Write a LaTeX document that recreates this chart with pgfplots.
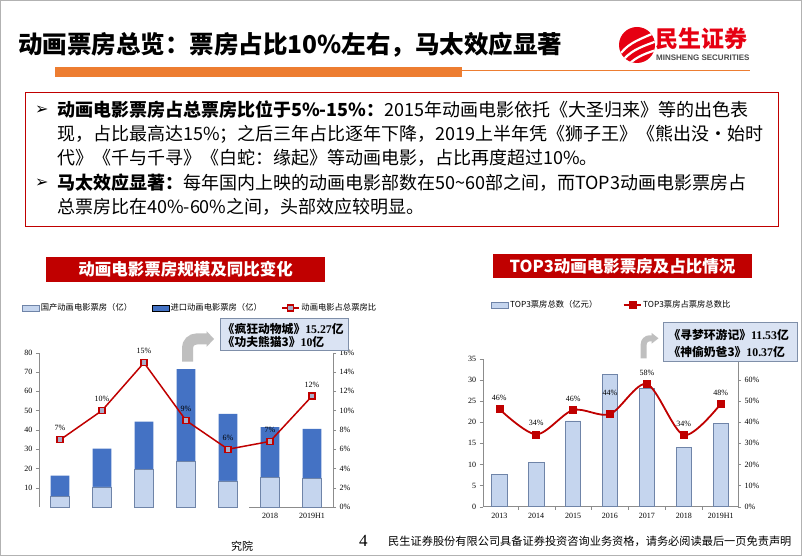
\documentclass[border=0pt]{standalone}
\usepackage{fontspec}
\setmainfont{Liberation Serif}
\newfontfamily\cjk{Noto Sans CJK SC}
\newfontfamily\sym{DejaVu Sans}
\newfontfamily\lsans{Liberation Sans}
\usepackage{pgfplots}
\pgfplotsset{compat=1.18}
\XeTeXlinebreaklocale "zh"
\XeTeXlinebreakskip=0pt plus 3pt
\newcommand\fs[1]{\fontsize{#1}{#1}\selectfont}
\definecolor{darkred}{HTML}{C00000}
\definecolor{orange1}{HTML}{ED7D31}
\definecolor{logored}{HTML}{E60012}
\definecolor{lightbar}{HTML}{C5D5EE}
\definecolor{baredge}{HTML}{6F84A8}
\definecolor{darkbar}{HTML}{4472C4}
\definecolor{annfill}{HTML}{DAE3F3}
\definecolor{annedge}{HTML}{7F8FA9}
\definecolor{arrowgrey}{HTML}{BFBFBF}
\definecolor{axgrey}{HTML}{8C8C8C}
\definecolor{markfill}{HTML}{A9AEC9}
\pgfplotsset{
  commonax/.style={
    scale only axis, anchor=south west, clip=false,
    tick align=outside, major tick length=3pt, minor tick length=3pt,
    ticklabel style={font=\fontsize{8}{9}\selectfont, text=black},
    /pgf/number format/assume math mode=true,
    axis line style={-, draw=axgrey},
    ytick style={draw=axgrey},
    xtick style={draw=none},
  },
}
\begin{document}
\begin{tikzpicture}
\useasboundingbox (0,0) rectangle (802pt,556pt);
\fill[white] (0,0) rectangle (802pt,556pt);
\draw[gray!60, line width=0.8pt] (0.4pt,0.4pt) rectangle (801.6pt,555.6pt);

% ---------- header ----------
\node[anchor=west, inner sep=0pt] at (18pt,511pt) {\cjk\bfseries\fs{24.5}动画票房总览：票房占比10\%左右，马太效应显著};
\fill[orange1] (55pt,479pt) rectangle (462pt,489pt);
\draw[orange1, line width=0.6pt] (462pt,486pt) -- (750pt,486pt);

% logo
\fill[logored] (637pt,511pt) circle (18pt);
\begin{scope}
\clip (637pt,511pt) circle (18pt);
\draw[white, line width=2.2pt] (621pt,503pt) .. controls (630pt,514pt) and (641pt,517pt) .. (654pt,523pt);
\draw[white, line width=2.2pt] (624pt,497pt) .. controls (633pt,507pt) and (644pt,510pt) .. (657pt,515pt);
\draw[white, line width=2.2pt] (628pt,491pt) .. controls (637pt,500pt) and (647pt,503pt) .. (659pt,507pt);
\end{scope}
\node[anchor=west, inner sep=0pt, text=logored] at (655pt,517pt) {\cjk\bfseries\fs{23}民生证券};
\node[anchor=west, inner sep=0pt, text=black!70] at (656pt,498pt) {\lsans\bfseries\fs{8}MINSHENG SECURITIES};

% text box
\draw[darkred, line width=0.8pt] (25pt,330pt) rectangle (778pt,464pt);
\node[anchor=west, inner sep=0pt] at (35pt,446pt) {\sym\fs{16}➢};
\node[anchor=west, inner sep=0pt] at (35pt,373pt) {\sym\fs{16}➢};
\node[anchor=west, inner sep=0pt] at (57pt,446pt) {\cjk\fs{18}\makebox[706pt][s]{{\bfseries 动画电影票房占总票房比位于5\%-15\%：}2015年动画电影依托《大圣归来》等的出色表}};
\node[anchor=west, inner sep=0pt] at (57pt,422pt) {\cjk\fs{18}\makebox[706pt][s]{现，占比最高达15\%；之后三年占比逐年下降，2019上半年凭《狮子王》《熊出没·始时}};
\node[anchor=west, inner sep=0pt] at (57pt,398pt) {\cjk\fs{18}代》《千与千寻》《白蛇：缘起》等动画电影，占比再度超过10\%。};
\node[anchor=west, inner sep=0pt] at (57pt,373pt) {\cjk\fs{18}\makebox[706pt][s]{{\bfseries 马太效应显著：}每年国内上映的动画电影部数在50\textasciitilde60部之间，而TOP3动画电影票房占}};
\node[anchor=west, inner sep=0pt] at (57pt,349pt) {\cjk\fs{18}总票房比在40\%-60\%之间，头部效应较明显。};

% chart titles
\fill[darkred] (46pt,274.3pt) rectangle (325pt,298.7pt);
\node[text=white, inner sep=0pt] at (185.5pt,286.5pt) {\cjk\bfseries\fs{16.5}动画电影票房规模及同比变化};
\fill[darkred] (492.7pt,277.7pt) rectangle (752.3pt,302pt);
\node[text=white, inner sep=0pt] at (622.5pt,289.8pt) {\cjk\bfseries\fs{16.5}TOP3动画电影票房及占比情况};

% ---------- chart 1 ----------
\begin{axis}[commonax,
  at={(39pt,49pt)}, width=294pt, height=154.3pt,
  xmin=-0.5, xmax=6.5, ymin=0, ymax=80,
  ytick={10,20,...,80},
  xtick={0,...,6}, xticklabels={,,,,,2018,2019H1},
  axis y line*=left, axis x line*=bottom,
  x axis line style={draw=none},
  ybar stacked, bar width=18.7pt,
]
\addplot[fill=lightbar, draw=baredge, line width=0.5pt] coordinates {(0,5.5)(1,10.4)(2,19.6)(3,23.5)(4,13.5)(5,15.4)(6,14.9)};
\addplot[fill=darkbar, draw=none] coordinates {(0,10.8)(1,19.9)(2,24.7)(3,48.0)(4,34.8)(5,26.0)(6,25.6)};
\draw[axgrey] (axis cs:4.5,0) -- (axis cs:6.5,0);
\end{axis}
\begin{axis}[commonax,
  at={(39pt,49pt)}, width=294pt, height=154.3pt,
  xmin=-0.5, xmax=6.5, ymin=0, ymax=16,
  ytick={0,2,...,16}, yticklabel={\pgfmathprintnumber{\tick}\%},
  axis y line*=right, axis x line=none,
  legend columns=3,
  legend style={at={(-0.059,1.29)}, anchor=west, draw=none, fill=none, inner sep=0pt,
    font=\cjk\fontsize{8.3}{9}\selectfont, nodes={inner sep=1.5pt},
    /tikz/every even column/.append style={column sep=18pt}},
]
\addlegendimage{area legend, fill=lightbar, draw=baredge}
\addlegendentry{国产动画电影票房（亿）}
\addlegendimage{area legend, fill=darkbar, draw=none}
\addlegendentry{进口动画电影票房（亿）}
\addplot[darkred, line width=1.5pt, mark=square*, mark size=3pt,
  mark options={fill=markfill, draw=darkred, line width=1.2pt},
  point meta=explicit symbolic, nodes near coords,
  nodes near coords style={font=\fontsize{8}{9}\selectfont, text=black, anchor=south, yshift=5pt}]
  coordinates {(0,6.96)[7\%] (1,10.0)[10\%] (2,14.96)[15\%] (3,8.97)[9\%] (4,5.99)[6\%] (5,6.8)[7\%] (6,11.5)[12\%]};
\addlegendentry{动画电影占总票房比}
\end{axis}

% ---------- chart 2 ----------
\begin{axis}[commonax,
  at={(482.7pt,49.3pt)}, width=255.3pt, height=148pt,
  xmin=-0.45, xmax=6.47, ymin=0, ymax=35,
  ytick={0,5,...,35},
  xtick={0,...,6}, xticklabels={2013,2014,2015,2016,2017,2018,2019H1},
  minor x tick num=1, minor x tick style={draw=axgrey},
  axis y line*=left, axis x line*=bottom,
  ybar, bar width=15.3pt,
]
\addplot[fill=lightbar, draw=baredge, line width=0.7pt] coordinates {(0,7.65)(1,10.5)(2,20.3)(3,31.2)(4,27.9)(5,14.0)(6,19.7)};
\end{axis}
\begin{axis}[commonax,
  at={(482.7pt,49.3pt)}, width=255.3pt, height=148pt,
  xmin=-0.45, xmax=6.47, ymin=0, ymax=70,
  ytick={0,10,...,60}, yticklabel={\pgfmathprintnumber{\tick}\%},
  axis y line*=right, axis x line=none,
  legend columns=2,
  legend style={at={(0.0325,1.363)}, anchor=west, draw=none, fill=none, inner sep=0pt,
    font=\cjk\fontsize{8.3}{9}\selectfont, nodes={inner sep=1.5pt},
    /tikz/every even column/.append style={column sep=24pt}},
]
\addlegendimage{area legend, fill=lightbar, draw=baredge}
\addlegendentry{TOP3票房总数（亿元）}
\addplot[darkred, line width=1.8pt, smooth, mark=square*, mark size=3.5pt,
  mark options={fill=darkred, draw=darkred, solid, line width=0.5pt},
  point meta=explicit symbolic, nodes near coords,
  nodes near coords style={font=\fontsize{8}{9}\selectfont, text=black, anchor=south, yshift=5pt}]
  coordinates {(0,46.2)[46\%] (1,34.2)[34\%] (2,45.7)[46\%] (3,43.8)[\raisebox{10pt}{44\%}] (4,58.0)[58\%] (5,33.9)[34\%] (6,48.6)[48\%]};
\addlegendentry{TOP3票房占票房总数比}
\end{axis}

% ---------- annotations ----------
\draw[arrowgrey, line width=11pt, rounded corners=9pt] (187.5pt,194.3pt) |- (207pt,217pt);
\fill[arrowgrey] (206.5pt,225pt) -- (214pt,217pt) -- (206.5pt,209pt) -- cycle;
\filldraw[fill=annfill, draw=annedge, line width=0.8pt] (220pt,206pt) rectangle (348pt,238pt);
\node[anchor=west, inner sep=0pt] at (222.5pt,226.7pt) {\cjk\bfseries\fs{11.8}《疯狂动物城》{\rmfamily\bfseries 15.27}亿};
\node[anchor=west, inner sep=0pt] at (222.5pt,214.3pt) {\cjk\bfseries\fs{11.8}《功夫熊猫3》{\rmfamily\bfseries 10}亿};

\draw[arrowgrey, line width=6pt, rounded corners=6pt] (643.7pt,197.7pt) |- (652.5pt,217.7pt);
\fill[arrowgrey] (651.7pt,223pt) -- (658.5pt,217.7pt) -- (651.7pt,212.4pt) -- cycle;
\filldraw[fill=annfill, draw=annedge, line width=0.8pt] (663pt,194.3pt) rectangle (797.3pt,233.3pt);
\node[anchor=west, inner sep=0pt] at (668.3pt,221pt) {\cjk\bfseries\fs{11.8}《寻梦环游记》{\rmfamily\bfseries 11.53}亿};
\node[anchor=west, inner sep=0pt] at (668.3pt,204.3pt) {\cjk\bfseries\fs{11.8}《神偷奶爸3》{\rmfamily\bfseries 10.37}亿};

% ---------- footer ----------
\node[anchor=west, inner sep=0pt] at (231pt,10pt) {\cjk\fs{11}究院};
\node[anchor=west, inner sep=0pt] at (359pt,15pt) {\fs{17}4};
\node[anchor=west, inner sep=0pt] at (388pt,15pt) {\cjk\fs{11.2}民生证券股份有限公司具备证券投资咨询业务资格，请务必阅读最后一页免责声明};
\end{tikzpicture}
\end{document}
